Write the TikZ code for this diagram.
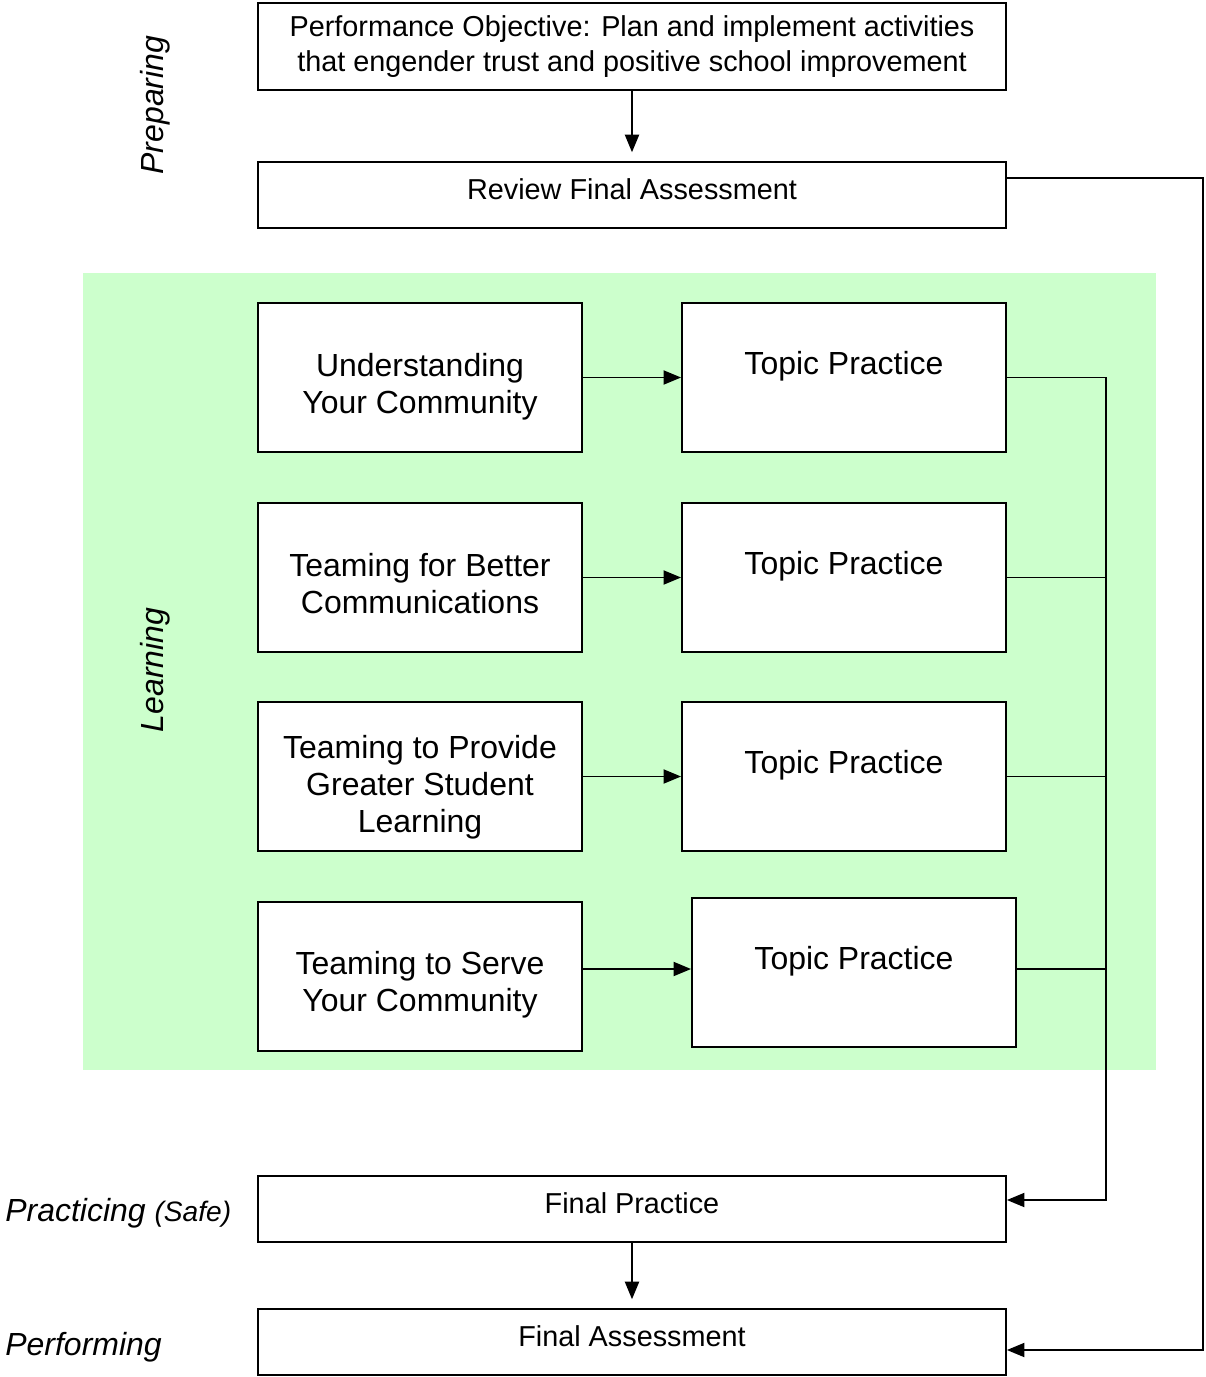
\documentclass[tikz,border=0pt]{standalone}
\usepackage{fontspec}
\setmainfont{Liberation Sans}
\usetikzlibrary{arrows.meta}
\definecolor{learnbg}{HTML}{CCFFCC}
\begin{document}
\begin{tikzpicture}[x=0.02cm,y=-0.02cm]
      \tikzstyle{wide}=[draw,line width=1.1pt,fill=white,minimum width=14.96cm,minimum height=1.32cm,inner sep=0pt,align=center,font=\fontsize{16.4}{19.5}\selectfont]
      \tikzstyle{single}=[wide,text depth=7pt]
      \tikzstyle{square}=[draw,line width=1.1pt,fill=white,minimum width=6.48cm,minimum height=2.98cm,inner sep=0pt,align=center,font=\fontsize{18.2}{21}\selectfont]
      \tikzstyle{topic}=[square,text height=41pt,text depth=0pt]
      \tikzstyle{practice}=[square,text depth=17pt]
      \tikzstyle{phase}=[inner sep=0pt,font=\fontsize{18.2}{21.6}\selectfont\itshape]
      \tikzstyle{line}=[line width=1.1pt]
      \tikzstyle{link}=[line,-{Triangle[length=10pt,width=8pt]}]
      \useasboundingbox (0,0) rectangle (1205,1377);
      \fill[learnbg] (83,273) rectangle (1156,1070);
      \node[wide,minimum height=1.74cm] (obj) at (632,46.5) {Performance Objective: Plan and implement activities\\that engender trust and positive school improvement};
      \node[single] (rev) at (632,195) {Review Final Assessment};
      \node[topic] (u1) at (420,377.5) {Understanding\\Your Community};
      \node[topic] (u2) at (420,577.5) {Teaming for Better\\Communications};
      \node[topic,text height=64pt] (u3) at (420,776.5) {Teaming to Provide\\Greater Student\\Learning};
      \node[topic,text height=40pt] (u4) at (420,976.5) {Teaming to Serve\\Your Community};
      \node[practice] (t1) at (844,377.5) {Topic Practice};
      \node[practice] (t2) at (844,577.5) {Topic Practice};
      \node[practice] (t3) at (844,776.5) {Topic Practice};
      \node[practice] (t4) at (854,972.5) {Topic Practice};
      \node[single] (fp) at (632,1209) {Final Practice};
      \node[single] (fa) at (632,1342) {Final Assessment};
      \node[phase,rotate=90] (prep) at (155,105) {Preparing};
      \node[phase,rotate=90] (learn) at (155,670) {Learning};
      \node[phase,anchor=west] (prac) at (5,1213) {Practicing {\fontsize{16}{19}\selectfont(Safe)}};
      \node[phase,anchor=west] (perf) at (5,1347) {Performing};
      \coordinate (bus) at (1106,1200);
      \coordinate (loop) at (1203,178);
      \draw[link,shorten >=5pt] (obj) -- (rev);
      \draw[link,shorten >=5pt] (fp) -- (fa);
      \draw[link] (u1) -- (t1);
      \draw[link] (u2) -- (t2);
      \draw[link] (u3) -- (t3);
      \draw[link] ([yshift=0.15cm]u4.east) -- ([yshift=0.07cm]t4.west);
      \draw[link] (t1.east) -| (bus) -- (fp.east |- bus);
      \draw[line] (t2.east) -- (t2.east -| bus);
      \draw[line] (t3.east) -- (t3.east -| bus);
      \draw[line] ([yshift=0.07cm]t4.east) -- ([yshift=0.07cm]t4.east -| bus);
      \draw[link] ([yshift=0.34cm]rev.east) -- (loop) |- ([yshift=-0.16cm]fa.east);
\end{tikzpicture}
\end{document}
